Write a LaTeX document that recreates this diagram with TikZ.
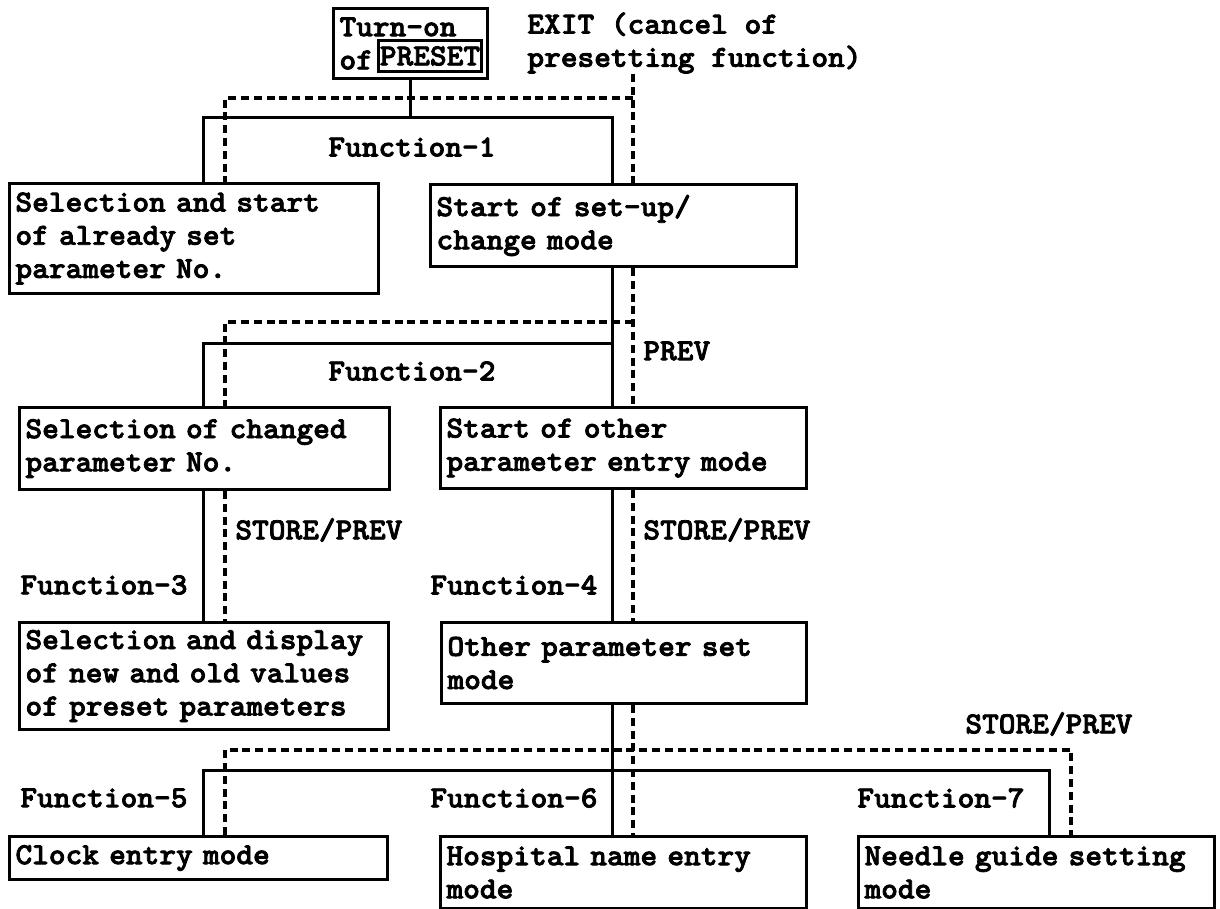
\documentclass[tikz,border=0pt]{standalone}
\usepackage{fontspec}
\newfontfamily\monobold{lmmonolt10-bold}[Extension=.otf, FakeBold=2.5, FakeStretch=1.04]

\begin{document}
\begin{tikzpicture}[
    x=0.5pt, y=-0.5pt,
    font=\monobold\fontsize{15.3pt}{16.6pt}\selectfont,
    box/.style={draw, line width=1.5pt, anchor=north west, align=left, inner xsep=3pt, inner ysep=0pt},
    lbl/.style={anchor=west, inner sep=0pt},
    link/.style={line width=1.5pt},
    back/.style={line width=1.6pt, dash pattern=on 4pt off 2.4pt}
]
\useasboundingbox (0,0) rectangle (1220,909);

% boxes
\node[box, text width=71pt, minimum height=35pt] (turnon) at (332,7) {Turn-on\\of};
\node[draw, line width=1.5pt, anchor=south east, minimum width=51.5pt, minimum height=15.5pt, inner sep=0pt] (preset) at (483,73) {PRESET};
\node[box, text width=178.5pt, minimum height=55pt] (sel1) at (8,182) {Selection and start\\of already set\\parameter No.};
\node[box, text width=177pt, minimum height=41pt] (setup) at (429,183) {Start of set-up/\\change mode};
\node[box, text width=179pt, minimum height=41pt] (sel2) at (18,406) {Selection of changed\\parameter No.};
\node[box, text width=177pt, minimum height=40.5pt] (other) at (439,406) {Start of other\\parameter entry mode};
\node[box, text width=178.5pt, minimum height=53.5pt] (sel3) at (18,621) {Selection and display\\of new and old values\\of preset parameters};
\node[box, text width=176.5pt, minimum height=40.5pt] (otherset) at (440,621) {Other parameter set\\mode};
\node[box, text width=183pt, minimum height=21.5pt] (clock) at (8,835) {Clock entry mode};
\node[box, text width=177pt, minimum height=36pt] (hosp) at (439,835) {Hospital name entry\\mode};
\node[box, text width=172pt, minimum height=36pt] (needle) at (857,835) {Needle guide setting\\mode};

% labels
\node[lbl, align=left] (exit) at (527,43) {EXIT (cancel of\\presetting function)};
\node[lbl] (f1) at (328,147) {Function-1};
\node[lbl] (f2) at (328,371) {Function-2};
\node[lbl] (f3) at (20,585) {Function-3};
\node[lbl] (f4) at (430,585) {Function-4};
\node[lbl] (f5) at (20,798) {Function-5};
\node[lbl] (f6) at (430,798) {Function-6};
\node[lbl] (f7) at (857,798) {Function-7};
\node[lbl] (prev) at (643,351) {PREV};
\node[lbl] (sp1) at (235,530) {STORE/PREV};
\node[lbl] (sp2) at (643,530) {STORE/PREV};
\node[lbl] (sp3) at (965,724) {STORE/PREV};

% branch points
\coordinate (s1) at (203,118);
\coordinate (s1r) at (612,118);
\coordinate (s2) at (203,343);
\coordinate (s4) at (1049,770);
\coordinate (d0) at (633,98);
\coordinate (d1) at (225,98);
\coordinate (d2) at (225,322);
\coordinate (d4) at (1071,750);

% solid tree
\draw[link] (turnon.south) -- (turnon.south |- s1);
\draw[link] (sel1.north -| s1) |- (s1r) -- (setup.north -| s1r);
\draw[link] (setup.south -| s1r) -- (other.north -| s1r);
\draw[link] (s2 -| s1r) -- (s2) -- (sel2.north -| s2);
\draw[link] (sel2.south -| s1) -- (sel3.north -| s1);
\draw[link] (other.south -| s1r) -- (otherset.north -| s1r);
\draw[link] (otherset.south -| s1r) -- (hosp.north -| s1r);
\draw[link] (clock.north -| s1) |- (s4) -- (needle.north -| s4);

% dashed return paths
\draw[back] (exit.south -| d0) -- (setup.north -| d0);
\draw[back] (d0) -- (d1) -- (sel1.north -| d1);
\draw[back] (setup.south -| d0) -- (other.north -| d0);
\draw[back] (d2 -| d0) -- (d2) -- (sel2.north -| d2);
\draw[back] (sel2.south -| d1) -- (sel3.north -| d1);
\draw[back] (other.south -| d0) -- (otherset.north -| d0);
\draw[back] (otherset.south -| d0) -- (hosp.north -| d0);
\draw[back] (clock.north -| d1) |- (d4) -- (needle.north -| d4);
\end{tikzpicture}
\end{document}
